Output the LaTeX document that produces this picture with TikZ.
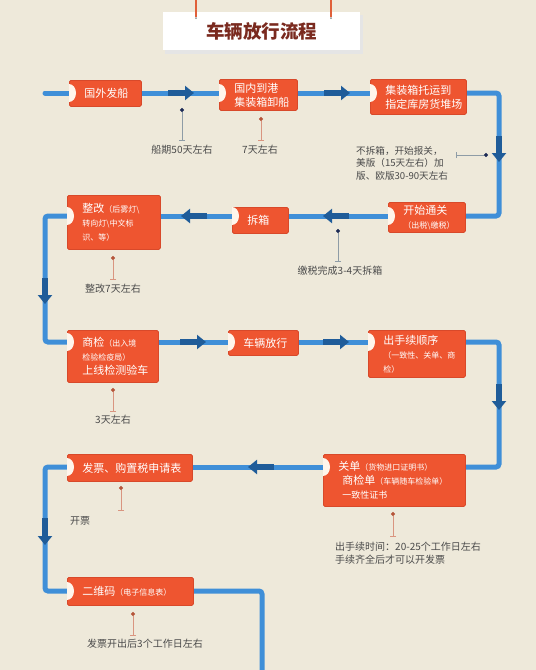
\documentclass[tikz,border=0pt]{standalone}
\usepackage{fontspec}
\setmainfont{Noto Sans CJK SC}
\usetikzlibrary{arrows.meta}
\pgfdeclarelayer{background}
\pgfdeclarelayer{canvas}
\pgfsetlayers{canvas,background,main}
\definecolor{bgc}{HTML}{EEE9DA}
\definecolor{boxfill}{HTML}{EE5530}
\definecolor{boxedge}{HTML}{D8492A}
\definecolor{pipec}{HTML}{3F8FD8}
\definecolor{arrowc}{HTML}{1F5C99}
\definecolor{titlec}{HTML}{7A2A1F}
\definecolor{stringc}{HTML}{E0603A}
\definecolor{notec}{HTML}{4A4A4A}
\definecolor{navydot}{HTML}{1C2A55}
\definecolor{orangedot}{HTML}{B5553A}
\definecolor{greyline}{HTML}{8E9CA6}
\definecolor{pinkline}{HTML}{D99580}
\newcommand{\smtxt}[1]{{\fontsize{8}{10}\selectfont #1}}
\tikzset{
  box/.style={draw=boxedge, fill=boxfill, line width=0.8pt, rounded corners=1.5pt,
    anchor=north west, text=white, align=left, inner xsep=15pt, inner ysep=0pt,
    font=\fontsize{11}{14}\selectfont},
  pipe/.style={draw=pipec, line width=5pt, rounded corners=3pt},
  flowarrow/.style={draw=arrowc, line width=6pt, -{Triangle[length=9pt,width=14pt]}},
  notetext/.style={text=notec, font=\fontsize{10}{13}\selectfont, inner sep=1pt},
  leadA/.style={draw=greyline, line width=0.7pt, {Circle[length=4pt,color=navydot]}-{Bar[width=6pt]}},
  leadB/.style={draw=pinkline, line width=0.7pt, {Circle[length=4pt,color=orangedot]}-{Bar[width=6pt]}},
  titlebox/.style={fill=white, anchor=north west, text=titlec, inner sep=0pt,
    font=\fontsize{18.5}{20}\selectfont\bfseries},
  dcap/.style={fill=white!92!orange}
}
\begin{document}
\begin{tikzpicture}[x=1pt,y=-1pt]
\begin{pgfonlayer}{canvas}
\fill[bgc] (0,0) rectangle (536,670);
\end{pgfonlayer}
\useasboundingbox (0,0) rectangle (536,670);

% title
\fill[black!10] (165,15) rectangle (363,54);
\node[titlebox, minimum width=197pt, minimum height=38pt] (title) at (163,12) {车辆放行流程};
\coordinate (h1) at (196,0);
\coordinate (h2) at (331,0);
\draw[stringc, line width=1.3pt] (h1) -- ++(0,17);
\draw[stringc, line width=1.3pt] (h2) -- ++(0,17);
\fill[black!45] (196,18) circle (1pt);
\fill[black!45] (331,18) circle (1pt);

% pipe rows
\coordinate (r1) at (0,93);
\coordinate (r2) at (0,216);
\coordinate (r3) at (0,342);
\coordinate (r4) at (0,467);
\coordinate (r5) at (0,591);

% boxes
\node[box, text width=42pt, minimum height=26pt] (b1) at (69,80) {国外发船};
\node[box, text width=48pt, minimum height=31pt] (b2) at (219,79) {国内到港\\集装箱卸船};
\node[box, text width=66pt, minimum height=35pt] (b3) at (370,79) {集装箱托运到\\指定库房货堆场};
\node[box, text width=47pt, minimum height=30pt] (b4) at (388,202) {开始通关\\\smtxt{（出税\textbackslash 缴税）}};
\node[box, text width=26pt, minimum height=26pt] (b5) at (232,207) {拆箱};
\node[box, text width=63pt, minimum height=54pt] (b6) at (67,195) {整改\smtxt{（后雾灯\textbackslash}\\\smtxt{转向灯\textbackslash 中文标}\\\smtxt{识、等）}};
\node[box, text width=61pt, minimum height=52pt] (b7) at (67,330) {商检\smtxt{（出入境}\\\smtxt{检验检疫局）}\\上线检测验车};
\node[box, text width=40pt, minimum height=25pt] (b8) at (228,330) {车辆放行};
\node[box, text width=67pt, minimum height=47pt] (b9) at (368,330) {出手续顺序\\\smtxt{（一致性、关单、商}\\\smtxt{检）}};
\node[box, text width=112pt, minimum height=52pt] (b10) at (323,454) {关单\smtxt{（货物进口证明书）}\\\hspace*{4pt}商检单\smtxt{（车辆随车检验单）}\\\hspace*{4pt}{\fontsize{9}{12}\selectfont 一致性证书}};
\node[box, text width=95pt, minimum height=27pt] (b11) at (67,454) {发票、购置税申请表};
\node[box, text width=96pt, minimum height=28pt] (b12) at (67,577) {二维码\smtxt{（电子信息表）}};

% D caps
\foreach \b/\r in {b1/r1,b2/r1,b3/r1,b4/r2,b5/r2,b6/r2,b7/r3,b8/r3,b9/r3,b10/r4,b11/r4,b12/r5}{
  \fill[dcap] ([yshift=-9pt]\b.west |- \r) arc[start angle=-90, end angle=90, x radius=7pt, y radius=9pt] -- cycle;
}

% pipe corners
\coordinate (s0) at (45,93);
\coordinate (c1) at (499,93);
\coordinate (c2) at (499,216);
\coordinate (c3) at (45,216);
\coordinate (c4) at (45,342);
\coordinate (c5) at (499,342);
\coordinate (c6) at (499,467);
\coordinate (c7) at (45,467);
\coordinate (c8) at (45,591);
\coordinate (c9) at (262,591);
\coordinate (c10) at (262,672);

\begin{pgfonlayer}{background}
\draw[pipe, line cap=round] (s0) -- (b1.west |- r1);
\draw[pipe] (b1.east |- r1) -- (b2.west |- r1);
\draw[pipe] (b2.east |- r1) -- (b3.west |- r1);
\draw[pipe] (b3.east |- r1) -- (c1) -- (c2) -- (b4.east |- r2);
\draw[pipe] (b4.west |- r2) -- (b5.east |- r2);
\draw[pipe] (b5.west |- r2) -- (b6.east |- r2);
\draw[pipe] (b6.west |- r2) -- (c3) -- (c4) -- (b7.west |- r3);
\draw[pipe] (b7.east |- r3) -- (b8.west |- r3);
\draw[pipe] (b8.east |- r3) -- (b9.west |- r3);
\draw[pipe] (b9.east |- r3) -- (c5) -- (c6) -- (b10.east |- r4);
\draw[pipe] (b10.west |- r4) -- (b11.east |- r4);
\draw[pipe] (b11.west |- r4) -- (c7) -- (c8) -- (b12.west |- r5);
\draw[pipe] (b12.east |- r5) -- (c9) -- (c10);
\end{pgfonlayer}

% flow arrows
\draw[flowarrow] (168,93) -- (194,93);
\draw[flowarrow] (324,93) -- (350,93);
\draw[flowarrow] (499,136) -- (499,162);
\draw[flowarrow] (207,216) -- (181,216);
\draw[flowarrow] (349,216) -- (323,216);
\draw[flowarrow] (45,278) -- (45,304);
\draw[flowarrow] (180,342) -- (206,342);
\draw[flowarrow] (323,342) -- (349,342);
\draw[flowarrow] (499,384) -- (499,410);
\draw[flowarrow] (274,467) -- (248,467);
\draw[flowarrow] (45,518) -- (45,545);

% notes
\node[notetext] (n1) at (182,150) {船期50天左右};
\coordinate (d1) at (182,108);
\draw[leadA] (d1) -- (182,141);

\node[notetext] (n2) at (260,150) {7天左右};
\coordinate (d2) at (261,117);
\draw[leadB] (d2) -- (261,141);

\node[notetext, anchor=north west, align=left, font=\fontsize{9.6}{12.5}\selectfont] (n3) at (355,145) {不拆箱，开始报关，\\美版（15天左右）加\\版、欧版30-90天左右};
\coordinate (d3) at (488,155);
\draw[leadA] (d3) -- (456,155);

\node[notetext] (n4) at (340,271) {缴税完成3-4天拆箱};
\coordinate (d4) at (338,229);
\draw[leadA] (d4) -- (338,262);

\node[notetext] (n5) at (113,289) {整改7天左右};
\coordinate (d5) at (113,256);
\draw[leadB] (d5) -- (113,280);

\node[notetext] (n6) at (113,420) {3天左右};
\coordinate (d6) at (113,388);
\draw[leadB] (d6) -- (113,412);

\node[notetext, anchor=west] (n7) at (69,521) {开票};
\coordinate (d7) at (121,486);
\draw[leadB] (d7) -- (121,511);

\node[notetext, anchor=north west, align=left] (n8) at (334,541) {出手续时间：20-25个工作日左右\\手续齐全后才可以开发票};
\coordinate (d8) at (393,512);
\draw[leadB] (d8) -- (393,537);

\node[notetext] (n9) at (145,644) {发票开出后3个工作日左右};
\coordinate (d9) at (133,612);
\draw[leadB] (d9) -- (133,636);
\end{tikzpicture}
\end{document}
